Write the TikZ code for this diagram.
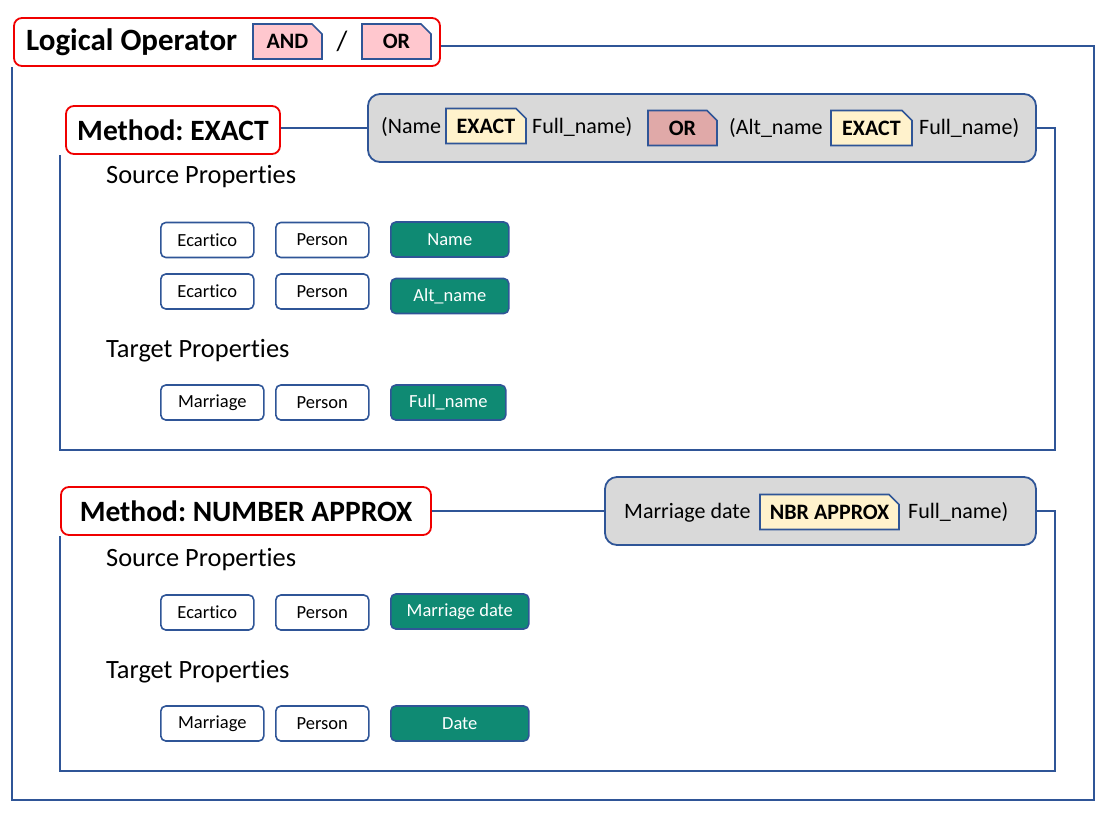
\documentclass[tikz,border=0pt]{standalone}
\usepackage{fontspec}
\setmainfont{Carlito}[Ligatures=NoCommon]
\usetikzlibrary{positioning, shapes.misc}
\frenchspacing

\definecolor{navy}{HTML}{2F5597}
\definecolor{opred}{HTML}{F00000}
\definecolor{pinkfill}{HTML}{FFC7CE}
\definecolor{orfill}{HTML}{E0A9A8}
\definecolor{yellowfill}{HTML}{FFF2CC}
\definecolor{tealfill}{HTML}{0F8A73}
\definecolor{grayfill}{HTML}{D9D9D9}

\tikzset{
  frame/.style={draw=navy, line width=1.8pt},
  opframe/.style={draw=opred, line width=1.8pt, rounded corners=8pt, fill=white},
  methodbox/.style={draw=opred, line width=1.8pt, rounded corners=8pt, fill=white,
    minimum height=48pt, font=\fontsize{29.5}{34}\selectfont\bfseries},
  condbox/.style={draw=navy, line width=1.8pt, rounded corners=12pt, fill=grayfill,
    minimum height=68pt},
  condtxt/.style={inner sep=0pt, font=\fontsize{22}{26}\selectfont},
  snipbox/.style={chamfered rectangle, chamfered rectangle corners=north east,
    chamfered rectangle xsep=5pt, chamfered rectangle ysep=5pt,
    draw=navy, line width=1.6pt, inner sep=0pt, minimum height=35pt,
    font=\fontsize{22}{26}\selectfont\bfseries},
  heading/.style={inner sep=0pt, anchor=west, font=\fontsize{26.4}{30}\selectfont},
  propbox/.style={draw=navy, line width=1.6pt, rounded corners=5pt, fill=white,
    minimum height=35pt, minimum width=93pt, anchor=west, font=\fontsize{18.5}{22}\selectfont},
  keybox/.style={propbox, fill=tealfill, text=white},
}

\begin{document}
\begin{tikzpicture}[x=1pt, y=-1pt]
\useasboundingbox (0,0) rectangle (1108,815);

% logical operator
\node[opframe, minimum width=426pt, minimum height=48pt] (logop) at (227,42) {};
\node[inner sep=0pt, anchor=west, font=\fontsize{31}{35}\selectfont\bfseries] (lotitle) at (26,42) {Logical Operator};
\node[snipbox, fill=pinkfill, minimum width=69pt] (andbtn) at (287.5,41.5) {AND};
\node[inner sep=0pt, font=\fontsize{28}{32}\selectfont] (slash) at (342,41) {/};
\node[snipbox, fill=pinkfill, minimum width=69pt] (orbtn) at (396.5,41.5) {OR};

\coordinate (outNE) at (1094,46);
\coordinate (outSW) at (12,800);
\draw[frame] (logop.east |- outNE) -- (outNE) |- (outSW) -- (outSW |- logop.south);

% method exact
\node[methodbox, minimum width=214pt] (meth1) at (173,130) {Method: EXACT};
\node[condbox, minimum width=668pt] (cond1) at (702,128) {};
\node[condtxt, anchor=west] (c1a) at (381,127) {(Name};
\node[snipbox, fill=yellowfill, minimum width=80pt] (c1op) at (486,126) {EXACT};
\node[condtxt, anchor=west] (c1b) at (532,127) {Full\_name)};
\node[snipbox, fill=orfill, minimum width=69pt] (c1or) at (682.5,128) {OR};
\node[condtxt, anchor=west] (c1c) at (729,128) {(Alt\_name};
\node[snipbox, fill=yellowfill, minimum width=81pt] (c1op2) at (871.5,128) {EXACT};
\node[condtxt, anchor=west] (c1d) at (919,128) {Full\_name)};

\coordinate (sec1NE) at (1055,128);
\coordinate (sec1SW) at (60,450);
\draw[frame] (meth1.east |- cond1.west) -- (cond1.west);
\draw[frame] (cond1.east) -- (sec1NE) |- (sec1SW) -- (sec1SW |- meth1.south);

\node[heading] (src1) at (106,177) {Source Properties};
\node[propbox] (s1a) at (160,240) {Ecartico};
\node[propbox] (s1b) at (275,240) {Person};
\node[keybox, minimum width=118pt] (s1c) at (390,239.5) {Name};
\node[propbox] (s2a) at (160,291.5) {Ecartico};
\node[propbox] (s2b) at (275,291.5) {Person};
\node[keybox, minimum width=118pt] (s2c) at (390,296) {Alt\_name};

\node[heading] (tgt1) at (106,351) {Target Properties};
\node[propbox, minimum width=103pt] (t1a) at (160,402.5) {Marriage};
\node[propbox] (t1b) at (275,402.5) {Person};
\node[keybox, minimum width=115pt] (t1c) at (390,402.5) {Full\_name};

% method number approx
\node[methodbox, minimum width=370pt] (meth2) at (246,511) {Method: NUMBER APPROX};
\node[condbox, minimum width=431pt] (cond2) at (820.5,511) {};
\node[condtxt, anchor=west] (c2a) at (624,513) {Marriage date};
\node[snipbox, fill=yellowfill, minimum width=139pt] (c2op) at (829.5,512) {NBR APPROX};
\node[condtxt, anchor=west] (c2b) at (908,512) {Full\_name)};

\coordinate (sec2NE) at (1055,511);
\coordinate (sec2SW) at (60,771);
\draw[frame] (meth2.east) -- (cond2.west);
\draw[frame] (cond2.east) -- (sec2NE) |- (sec2SW) -- (sec2SW |- meth2.south);

\node[heading] (src2) at (106,560) {Source Properties};
\node[propbox] (s3a) at (160,612.5) {Ecartico};
\node[propbox] (s3b) at (275,612.5) {Person};
\node[keybox, minimum width=138pt] (s3c) at (390,611.5) {Marriage date};

\node[heading] (tgt2) at (106,672) {Target Properties};
\node[propbox, minimum width=103pt] (t2a) at (160,723.5) {Marriage};
\node[propbox] (t2b) at (275,723.5) {Person};
\node[keybox, minimum width=138pt] (t2c) at (390,723.5) {Date};
\end{tikzpicture}
\end{document}
